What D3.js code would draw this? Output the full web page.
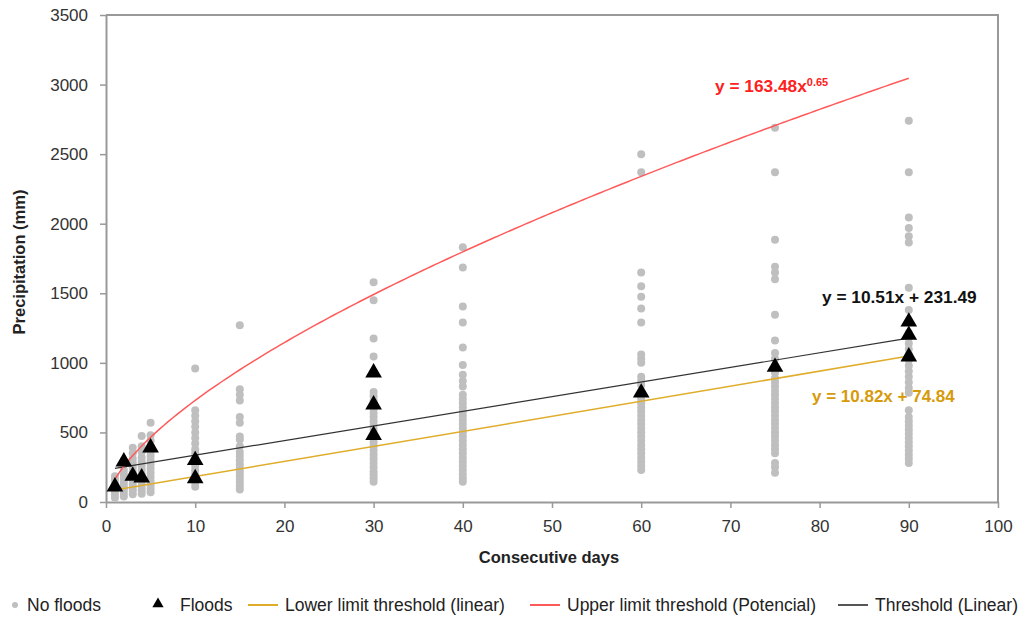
<!DOCTYPE html>
<html>
<head>
<meta charset="utf-8">
<script src="https://cdn.jsdelivr.net/npm/d3@7"></script>
<style>
  body { margin: 0; background: #fff; }
  svg text { font-family: "Liberation Sans", Arial, sans-serif; }
</style>
</head>
<body>
<div id="chart"></div>
<script>
// consecutive days with observations
var days = [1, 2, 3, 4, 5, 10, 15, 30, 40, 60, 75, 90];

// precipitation (mm) of events without floods, one list per entry of days
var noFloods = [
    [30, 55, 80, 105, 130, 160, 185],
    [40, 65, 90, 115, 140, 170, 200, 230],
    [55, 80, 105, 130, 160, 190, 220, 250, 280, 310, 350, 390],
    [60, 85, 110, 140, 170, 200, 230, 260, 290, 320, 360, 400, 475],
    [70, 95, 120, 150, 180, 210, 240, 270, 300, 330, 360, 400, 440, 480, 570],
    [110, 140, 170, 200, 230, 260, 290, 320, 350, 380, 420, 460, 500, 540, 580, 620, 660, 960],
    [90, 115, 140, 165, 190, 215, 240, 270, 300, 330, 360, 400, 450, 470, 570, 610, 730, 770, 810, 1270],
    [145, 170, 195, 220, 250, 280, 310, 340, 370, 400, 430, 460, 490, 520, 550, 580, 610, 640, 670, 700, 730, 760, 790, 1045, 1175, 1450, 1580],
    [145, 170, 200, 230, 260, 290, 320, 350, 380, 410, 440, 470, 500, 530, 560, 590, 620, 650, 680, 710, 740, 770, 830, 870, 915, 985, 1110, 1290, 1405, 1685, 1830],
    [230, 260, 290, 320, 350, 380, 410, 440, 470, 500, 530, 560, 590, 620, 650, 680, 710, 740, 770, 840, 870, 900, 1000, 1030, 1060, 1290, 1390, 1475, 1550, 1650, 2370, 2500],
    [210, 250, 280, 350, 380, 410, 440, 470, 500, 530, 560, 590, 620, 650, 680, 710, 740, 770, 800, 830, 860, 890, 930, 980, 1030, 1070, 1160, 1345, 1600, 1650, 1690, 1885, 2370, 2690],
    [280, 310, 340, 370, 400, 430, 460, 490, 520, 550, 580, 610, 660, 785, 820, 860, 900, 940, 980, 1020, 1060, 1100, 1140, 1180, 1215, 1380, 1540, 1865, 1910, 1970, 2045, 2370, 2740]
];

// flood events
var floodDays   = [1, 2, 3, 4, 5, 10, 10, 30, 30, 30, 60, 75, 90, 90, 90];
var floodPrecip = [110, 290, 187, 175, 390, 300, 170, 930, 700, 480, 785, 970, 1295, 1200, 1045];

// trendline coefficients
var lowerLinear = [10.82, 74.84];   // slope, intercept
var upperPower  = [163.48, 0.65];   // coef, exponent
var threshLinear = [10.51, 231.49]; // slope, intercept
var trendRange = [1, 90];

var xTicks = [0, 10, 20, 30, 40, 50, 60, 70, 80, 90, 100];
var yTicks = [0, 500, 1000, 1500, 2000, 2500, 3000, 3500];

var W = 1024, H = 628;
var margin = {top: 15, right: 26, bottom: 126, left: 106};
var width = W - margin.left - margin.right,
    height = H - margin.top - margin.bottom;

var svg = d3.select('#chart').append('svg')
            .attr('width', W)
            .attr('height', H);

var g = svg.append('g')
            .attr('transform', 'translate(' + margin.left + ',' + margin.top + ')');

var xScale = d3.scaleLinear().domain([0, 100]).range([0, width]);
var yScale = d3.scaleLinear().domain([0, 3500]).range([height, 0]);

// frame (top and right)
g.append('path')
    .attr('d', 'M0,0H' + width + 'V' + height)
    .attr('fill', 'none')
    .attr('stroke', '#999')
    .attr('stroke-width', 2);

// axes
var xAxis = d3.axisBottom(xScale).tickValues(xTicks).tickFormat(d3.format('d'))
                .tickSize(6).tickSizeOuter(0).tickPadding(12);
var yAxis = d3.axisLeft(yScale).tickValues(yTicks).tickFormat(d3.format('d'))
                .tickSize(6).tickSizeOuter(0).tickPadding(6);

var xAxisG = g.append('g').attr('transform', 'translate(0,' + height + ')').call(xAxis);
var yAxisG = g.append('g').call(yAxis);

[xAxisG, yAxisG].forEach(function(a) {
    a.select('.domain').attr('stroke', '#999').attr('stroke-width', 2);
    a.selectAll('.tick line').attr('stroke', '#999').attr('stroke-width', 1.5);
    a.selectAll('.tick text')
        .attr('fill', '#333')
        .style('font-size', '17px')
        .style('font-family', '"Liberation Sans", Arial, sans-serif');
});
yAxisG.selectAll('.tick text').attr('dx', '-6');

// axis titles
svg.append('text')
    .attr('x', margin.left + width / 2 - 3)
    .attr('y', 563)
    .attr('text-anchor', 'middle')
    .style('font-size', '16.5px')
    .style('font-weight', 'bold')
    .attr('fill', '#222')
    .text('Consecutive days');

svg.append('text')
    .attr('transform', 'translate(25,' + (margin.top + 247) + ') rotate(-90)')
    .attr('text-anchor', 'middle')
    .style('font-size', '16.5px')
    .style('font-weight', 'bold')
    .attr('fill', '#222')
    .text('Precipitation (mm)');

// no-flood points
var dots = [];
days.forEach(function(d, i) {
    noFloods[i].forEach(function(v) { dots.push({x: d, y: v}); });
});

g.selectAll('circle.nf')
    .data(dots)
    .enter()
    .append('circle')
    .attr('class', 'nf')
    .attr('cx', function(d) { return xScale(d.x); })
    .attr('cy', function(d) { return yScale(d.y); })
    .attr('r', 4)
    .attr('fill', '#bfbfbf');

// trendlines
var samples = d3.range(trendRange[0], trendRange[1] + 0.01, 0.5);
var line = d3.line()
            .x(function(d) { return xScale(d[0]); })
            .y(function(d) { return yScale(d[1]); });

g.append('path')
    .attr('d', line(trendRange.map(function(x) { return [x, lowerLinear[0] * x + lowerLinear[1]]; })))
    .attr('fill', 'none')
    .attr('stroke', '#e0ad2a')
    .attr('stroke-width', 1.5);

g.append('path')
    .attr('d', line(trendRange.map(function(x) { return [x, threshLinear[0] * x + threshLinear[1]]; })))
    .attr('fill', 'none')
    .attr('stroke', '#333')
    .attr('stroke-width', 1.2);

g.append('path')
    .attr('d', line(samples.map(function(x) { return [x, upperPower[0] * Math.pow(x, upperPower[1])]; })))
    .attr('fill', 'none')
    .attr('stroke', '#ff5a5a')
    .attr('stroke-width', 1.5);

// flood triangles
var tri = d3.symbol().type(d3.symbolTriangle).size(120);
g.selectAll('path.fl')
    .data(floodDays.map(function(d, i) { return {x: d, y: floodPrecip[i]}; }))
    .enter()
    .append('path')
    .attr('class', 'fl')
    .attr('d', tri)
    .attr('transform', function(d) { return 'translate(' + xScale(d.x) + ',' + yScale(d.y) + ')'; })
    .attr('fill', '#000');

// equation labels
var red = g.append('text')
    .attr('x', 609).attr('y', 77)
    .attr('fill', '#ff2020')
    .style('font-size', '17.3px')
    .style('font-weight', 'bold');
red.append('tspan').text('y = 163.48x');
red.append('tspan').attr('dy', -6).style('font-size', '11px').text('0.65');

g.append('text')
    .attr('x', 716).attr('y', 288)
    .attr('fill', '#111')
    .style('font-size', '17.3px')
    .style('font-weight', 'bold')
    .text('y = 10.51x + 231.49');

g.append('text')
    .attr('x', 706).attr('y', 387)
    .attr('fill', '#d69a0a')
    .style('font-size', '17px')
    .style('font-weight', 'bold')
    .text('y = 10.82x + 74.84');

// legend
var legY = 605;
var leg = svg.append('g');
leg.append('circle').attr('cx', 15).attr('cy', legY).attr('r', 3).attr('fill', '#bfbfbf');
leg.append('path').attr('d', d3.symbol().type(d3.symbolTriangle).size(55))
    .attr('transform', 'translate(158,' + (legY - 1) + ')').attr('fill', '#000');

var legLines = [
    {x1: 248, x2: 278, color: '#e0ad2a'},
    {x1: 530, x2: 560, color: '#ff5a5a'},
    {x1: 838, x2: 868, color: '#555'}
];
leg.selectAll('line')
    .data(legLines)
    .enter()
    .append('line')
    .attr('x1', function(d) { return d.x1; })
    .attr('x2', function(d) { return d.x2; })
    .attr('y1', legY).attr('y2', legY)
    .attr('stroke', function(d) { return d.color; })
    .attr('stroke-width', 2);

var legTexts = [
    {x: 27, t: 'No floods'},
    {x: 180, t: 'Floods'},
    {x: 285, t: 'Lower limit threshold (linear)'},
    {x: 567, t: 'Upper limit threshold (Potencial)'},
    {x: 875, t: 'Threshold (Linear)'}
];
leg.selectAll('text')
    .data(legTexts)
    .enter()
    .append('text')
    .attr('x', function(d) { return d.x; })
    .attr('y', legY + 6)
    .attr('fill', '#222')
    .style('font-size', '17.5px')
    .text(function(d) { return d.t; });
</script>
</body>
</html>
